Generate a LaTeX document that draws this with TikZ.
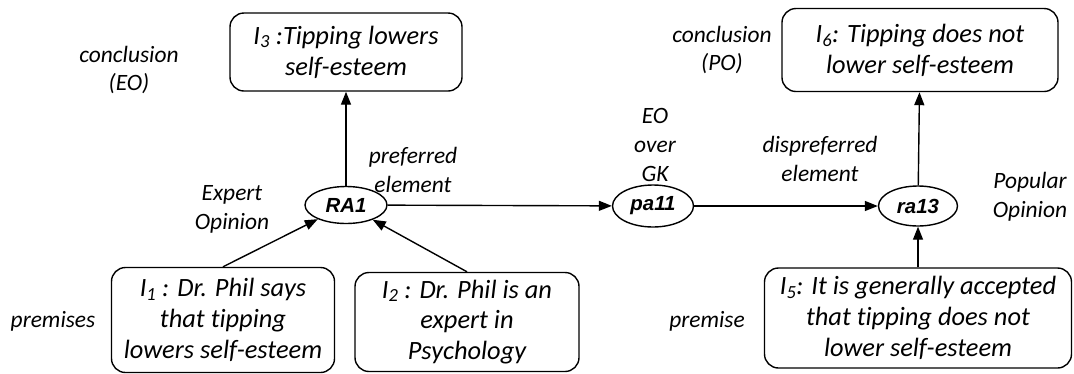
\documentclass[tikz,border=0pt]{standalone}
\usepackage{fontspec}
\setmainfont[Ligatures=NoCommon]{Carlito}
\newfontfamily\ellfont{Liberation Sans}
\usetikzlibrary{arrows.meta,shapes.geometric}
\newcommand{\isub}[1]{I\textsubscript{#1}}
\begin{document}
\begin{tikzpicture}[x=1bp,y=-1bp,
  ibox/.style={draw,rounded corners=14bp,line width=1.4bp,align=center,
    font=\fontsize{26.5}{31}\selectfont\itshape,inner sep=0pt},
  sch/.style={draw,ellipse,line width=1.4bp,inner sep=0pt,
    font=\fontsize{20.5}{22}\selectfont\ellfont\bfseries\itshape},
  lbl/.style={align=center,font=\fontsize{23.5}{29}\selectfont\itshape,inner sep=0pt},
  arr/.style={line width=1.4bp,-{Triangle[length=13bp,width=10bp]}}]
\useasboundingbox (0,0) rectangle (1074,373);
% I-nodes
\node[ibox,minimum width=232bp,minimum height=78bp] (I3) at (346,52) {\isub{3} :Tipping lowers\\self-esteem};
\node[ibox,minimum width=276bp,minimum height=83bp] (I6) at (920,50) {\isub{6}: Tipping does not\\lower self-esteem};
\node[ibox,minimum width=223bp,minimum height=105bp] (I1) at (223,320) {\isub{1} : Dr. Phil says\\that tipping\\lowers self-esteem};
\node[ibox,minimum width=224bp,minimum height=99bp] (I2) at (467,322) {\isub{2} : Dr. Phil is an\\expert in\\Psychology};
\node[ibox,minimum width=307bp,minimum height=100bp] (I5) at (918,318) {\isub{5}: It is generally accepted\\that tipping does not\\lower self-esteem};
% scheme nodes
\node[sch,minimum width=82bp,minimum height=37bp] (RA1) at (346,205) {RA1};
\node[sch,minimum width=81bp,minimum height=42bp] (pa11) at (653,206) {pa11};
\node[sch,minimum width=79bp,minimum height=40bp] (ra13) at (918,206) {ra13};
% labels
\node[lbl] (lc1) at (129,70) {conclusion\\(EO)};
\node[lbl] (lpe) at (413,170) {preferred\\element};
\node[lbl] (leo) at (232,209) {Expert\\Opinion};
\node[lbl] (lpr) at (53,321) {premises};
\node[lbl] (lc2) at (722,50) {conclusion\\(PO)};
\node[lbl] (lgk) at (655,145) {EO\\over\\GK};
\node[lbl] (ldp) at (820,159) {dispreferred\\element};
\node[lbl] (lpo) at (1030,197) {Popular\\Opinion};
\node[lbl] (lp2) at (707,321) {premise};
% edges
\draw[arr] (RA1) -- (I3);
\draw[arr] (I1.north) -- (RA1);
\draw[arr] (I2.north) -- (RA1);
\draw[arr] (RA1) -- (pa11);
\draw[arr] (pa11) -- (ra13);
\draw[arr] (I5) -- (ra13);
\draw[arr] (ra13) -- (I6);
\end{tikzpicture}
\end{document}
